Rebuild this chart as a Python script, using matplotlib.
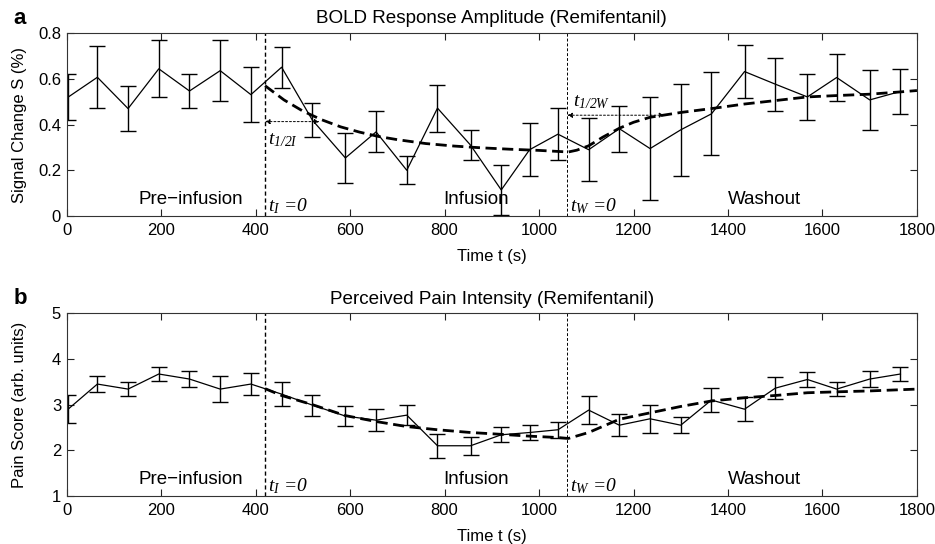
import matplotlib
matplotlib.use("Agg")
import matplotlib.pyplot as plt

plt.rcParams['font.family'] = ['Liberation Sans', 'DejaVu Sans']
plt.rcParams['mathtext.fontset'] = 'custom'
plt.rcParams['mathtext.rm'] = 'Liberation Serif:italic'
plt.rcParams['mathtext.it'] = 'Liberation Serif:italic'

# ---- data ----
time_s = [3, 65, 130, 195, 260, 325, 390, 455, 520, 590, 655, 720, 785, 855,
          920, 980, 1040, 1105, 1170, 1235, 1300, 1365, 1435, 1500, 1568, 1630, 1700, 1765]

bold_mean = [0.52, 0.607, 0.47, 0.644, 0.547, 0.636, 0.531, 0.651, 0.42, 0.254,
             0.368, 0.20, 0.472, 0.31, 0.114, 0.29, 0.358, 0.29, 0.382, 0.295,
             0.377, 0.447, 0.632, 0.577, 0.521, 0.606, 0.508, 0.545]
bold_err = [0.10, 0.135, 0.10, 0.124, 0.075, 0.134, 0.12, 0.09, 0.075, 0.11,
            0.09, 0.062, 0.103, 0.065, 0.11, 0.117, 0.114, 0.137, 0.10, 0.226,
            0.20, 0.182, 0.117, 0.116, 0.10, 0.103, 0.13, 0.10]

pain_mean = [2.90, 3.45, 3.34, 3.67, 3.56, 3.34, 3.45, 3.23, 2.99, 2.75,
             2.66, 2.77, 2.10, 2.10, 2.34, 2.39, 2.45, 2.88, 2.55, 2.69,
             2.55, 3.10, 2.90, 3.36, 3.55, 3.34, 3.56, 3.67]
pain_err = [0.30, 0.17, 0.15, 0.16, 0.165, 0.28, 0.24, 0.27, 0.23, 0.22,
            0.24, 0.22, 0.265, 0.20, 0.165, 0.16, 0.18, 0.31, 0.24, 0.30,
            0.18, 0.26, 0.26, 0.24, 0.17, 0.16, 0.17, 0.16]

fit_time = [420, 460, 500, 540, 580, 620, 660, 700, 760, 820, 880, 940, 1000, 1062,
            1080, 1105, 1135, 1170, 1200, 1235, 1300, 1365, 1435, 1500, 1568, 1630, 1700, 1765, 1800]
bold_fit = [0.57, 0.508, 0.459, 0.421, 0.390, 0.367, 0.348, 0.334, 0.317, 0.306, 0.298, 0.292, 0.287, 0.280,
            0.288, 0.307, 0.345, 0.384, 0.410, 0.432, 0.453, 0.470, 0.490, 0.505, 0.521, 0.527, 0.533, 0.543, 0.549]

pain_fit_time = [420, 455, 520, 590, 655, 720, 785, 855, 920, 980, 1040, 1062,
                 1105, 1170, 1235, 1300, 1365, 1435, 1500, 1568, 1630, 1700, 1800]
pain_fit = [3.35, 3.20, 3.00, 2.76, 2.63, 2.52, 2.45, 2.39, 2.35, 2.31, 2.28, 2.26,
            2.39, 2.68, 2.82, 2.96, 3.08, 3.15, 3.20, 3.26, 3.28, 3.30, 3.34]

t_infusion = 420
t_washout = 1060
x_ticks = [0, 200, 400, 600, 800, 1000, 1200, 1400, 1600, 1800]

fig = plt.figure(figsize=(9.35, 5.44), dpi=100)
ax1 = fig.add_axes([0.0713, 0.603, 0.9094, 0.336])
ax2 = fig.add_axes([0.0713, 0.0882, 0.9094, 0.336])


def style(ax, yticks, ylim):
    ax.set_xlim(0, 1800)
    ax.set_ylim(*ylim)
    ax.set_xticks(x_ticks)
    ax.set_yticks(yticks)
    ax.tick_params(direction='in', top=True, right=True, length=5, width=0.8,
                   labelsize=12, colors='#222222', labelcolor='black')
    ax.tick_params(axis='x', pad=5)
    ax.tick_params(axis='y', pad=4)
    for s in ax.spines.values():
        s.set_linewidth(0.8)
        s.set_color('#333333')


def panel(ax, mean, err, ftime, fit, yticks, ylim, title, ylabel, letter,
          labely, tly):
    ax.errorbar(time_s, mean, yerr=err, color='black', lw=0.9, elinewidth=1.0,
                capsize=6, capthick=1.0)
    ax.plot(ftime, fit, color='black', lw=2.0, ls=(0, (4, 2)))
    ax.axvline(t_infusion, color='black', lw=1.0, ls=(0, (3, 2)))
    ax.axvline(t_washout, color='black', lw=0.7, ls=(0, (3, 2)))
    style(ax, yticks, ylim)
    ax.set_title(title, fontsize=13.6, pad=7)
    ax.set_ylabel(ylabel, fontsize=12)
    ax.yaxis.set_label_coords(-0.047, 0.5)
    ax.set_xlabel('Time t (s)', fontsize=12, labelpad=8)
    ax.text(-0.063, 1.025, letter, transform=ax.transAxes, fontsize=16,
            fontweight='bold', va='bottom')
    ax.text(262, labely, 'Pre\u2212infusion', ha='center', va='bottom', fontsize=13.5)
    ax.text(866, labely, 'Infusion', ha='center', va='bottom', fontsize=13.5)
    ax.text(1478, labely, 'Washout', ha='center', va='bottom', fontsize=13.5)
    ax.text(426, tly, r'$t_{I}$ =0', ha='left', va='bottom', fontsize=14,
            family='Liberation Serif', style='italic')
    ax.text(1066, tly, r'$t_{W}$ =0', ha='left', va='bottom', fontsize=14,
            family='Liberation Serif', style='italic')


panel(ax1, bold_mean, bold_err, fit_time, bold_fit, [0, 0.2, 0.4, 0.6, 0.8], (0, 0.8),
      'BOLD Response Amplitude (Remifentanil)', 'Signal Change S (%)', 'a', 0.035, 0.0)
ax1.set_yticklabels(['0', '0.2', '0.4', '0.6', '0.8'])
panel(ax2, pain_mean, pain_err, pain_fit_time, pain_fit, [1, 2, 3, 4, 5], (1, 5),
      'Perceived Pain Intensity (Remifentanil)', 'Pain Score (arb. units)', 'b', 1.17, 1.0)

# half-life arrows on panel a
arrow_style = dict(arrowstyle='<|-|>', color='black', lw=0.7, ls=(0, (2, 2)),
                   mutation_scale=7, shrinkA=0, shrinkB=0)
ax1.annotate('', xy=(535, 0.413), xytext=(t_infusion, 0.413), arrowprops=arrow_style)
ax1.annotate('', xy=(1265, 0.441), xytext=(t_washout, 0.441), arrowprops=arrow_style)
ax1.text(426, 0.33, r'$t_{1/2I}$', ha='left', va='center', fontsize=14)
ax1.text(1072, 0.50, r'$t_{1/2W}$', ha='left', va='center', fontsize=14)

fig.savefig('out.png', dpi=100)
